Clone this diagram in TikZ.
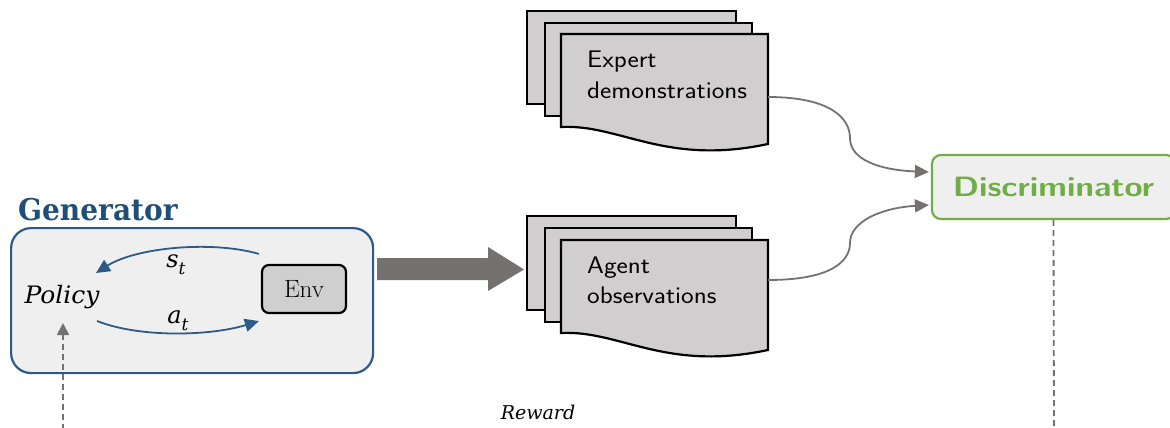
\documentclass[tikz,border=0pt]{standalone}
\usepackage{fontspec}
\usetikzlibrary{arrows.meta}
\newfontfamily\serfont{DejaVu Serif}
\definecolor{gblue}{HTML}{1F4E79}
\definecolor{ablue}{HTML}{2E5A87}
\definecolor{dgreen}{HTML}{70AD47}
\definecolor{agray}{HTML}{767171}
\definecolor{boxfill}{HTML}{F0EFF0}
\definecolor{docfill}{HTML}{D0CECE}
\definecolor{envfill}{HTML}{D0CFD0}
\begin{document}
\begin{tikzpicture}[x=1pt,y=-1pt,
  doc/.style={draw=black,fill=docfill,line width=2.2pt,line join=miter},
  doctext/.style={anchor=base west,inner sep=0pt,font=\sffamily\fontsize{24}{24}\selectfont},
  flow/.style={draw=ablue,line width=1.8pt,-{Triangle[length=14pt,width=13pt]}},
  feed/.style={draw=agray,line width=1.8pt,-{Triangle[length=14pt,width=13pt]}},
  dashline/.style={draw=agray,line width=1.8pt,dash pattern=on 6pt off 4pt},
  mathlbl/.style={anchor=base,inner sep=0pt,font=\serfont\itshape\fontsize{24}{24}\selectfont}]
\useasboundingbox (0,0) rectangle (1170,428);

% Generator
\node[draw=ablue,fill=boxfill,line width=2.2pt,rounded corners=20pt,
      minimum width=362pt,minimum height=145pt,anchor=north west] (gen) at (10,227) {};
\node[anchor=base west,inner sep=0pt,text=gblue,
      font=\serfont\bfseries\fontsize{30}{30}\selectfont] (gentitle) at (18,220) {\scalebox{0.935}[1]{Generator}};
\node[draw=black,fill=envfill,line width=2.2pt,rounded corners=7pt,
      minimum width=84pt,minimum height=48pt,font=\fontsize{25}{25}\selectfont] (env) at (304,289) {Env};
\node[mathlbl] (policy) at (62,303) {\scalebox{1.04}[1]{Policy}};
\node[mathlbl] (st) at (176,267) {s\raisebox{-0.3em}{\fontsize{17}{17}\selectfont t}};
\node[mathlbl] (at) at (178,323) {a\raisebox{-0.3em}{\fontsize{17}{17}\selectfont t}};
\draw[flow] ([shift={(-2,-10)}]env.north west) .. controls (210,240) and (135,248) .. ([shift={(34,-30)}]policy.base);
\draw[flow] ([shift={(35,18)}]policy.base) .. controls (140,338) and (210,336) .. ([shift={(-2,7)}]env.south west);
\coordinate (revin) at (63,430);
\draw[dashline,-{Triangle[length=12pt,width=12pt]}] (revin) -- ([shift={(1,20)}]policy.base);

% big arrow
\fill[agray] (377,258) -- (488,258) -- (488,247) -- (524,269.5) -- (488,291) -- (488,280) -- (377,280) -- cycle;

% Expert stack
\draw[doc] (527,11) rectangle (736,104);
\draw[doc] (545,23) rectangle (752,116);
\draw[doc] (561,34) -- (768,34) -- (768,144) .. controls (665,166) and (620,124) .. (561,127) -- cycle;
\node[doctext] (exp1) at (587,68) {\scalebox{1.12}[1]{Expert}};
\node[doctext] (exp2) at (587,98) {\scalebox{1.12}[1]{demonstrations}};
\coordinate (expOut) at (768,97);

% Agent stack
\draw[doc] (527,216) rectangle (736,310);
\draw[doc] (545,228) rectangle (752,322);
\draw[doc] (561,240) -- (768,240) -- (768,350) .. controls (665,372) and (620,330) .. (561,333) -- cycle;
\node[doctext] (ag1) at (587,273) {\scalebox{1.12}[1]{Agent}};
\node[doctext] (ag2) at (587,303) {\scalebox{1.12}[1]{observations}};
\coordinate (agOut) at (768,280);

% Discriminator
\node[draw=dgreen,fill=boxfill,line width=2.2pt,rounded corners=9pt,
      minimum width=243pt,minimum height=64pt,text=dgreen,
      font=\sffamily\bfseries\fontsize{28}{28}\selectfont] (disc) at (1053.5,187) {\scalebox{1.18}[1]{Discriminator}};
\draw[feed] (expOut) .. controls (830,97) and (850,118) .. (850,138) .. controls (850,160) and (880,170) .. ([shift={(-2,-15)}]disc.west);
\draw[feed] (agOut) .. controls (830,280) and (850,262) .. (850,243) .. controls (850,222) and (880,208) .. ([shift={(-2,18)}]disc.west);
\coordinate (revout) at (1054,430);
\draw[dashline] (disc.south) -- (revout);

\node[mathlbl,font=\serfont\itshape\fontsize{19}{19}\selectfont] (reward) at (538,419) {Reward};
\end{tikzpicture}
\end{document}
